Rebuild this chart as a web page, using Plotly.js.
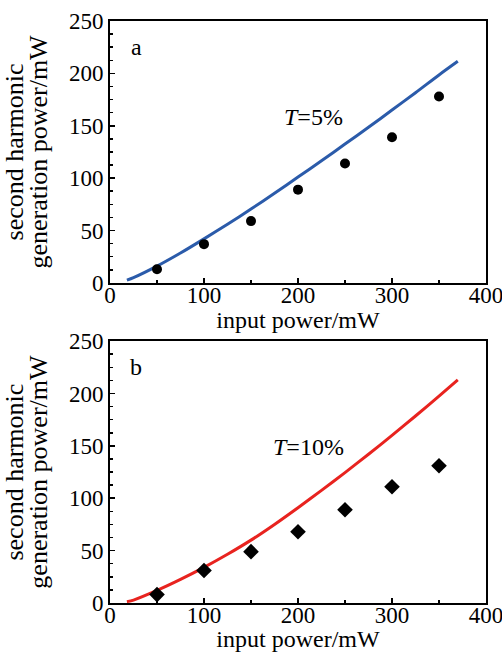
<!DOCTYPE html>
<html>
<head>
<meta charset="utf-8">
<script src="https://cdn.plot.ly/plotly-3.0.1.min.js"></script>
<style>html,body{margin:0;padding:0;background:#fff;}#chart{width:502px;height:652px;}</style>
</head>
<body>
<div id="chart"></div>
<script>
// Measured points
var inputPower = [50, 100, 150, 200, 250, 300, 350];
var shgMeasuredA = [13, 37, 59, 89, 114, 139, 178];
var shgMeasuredB = [8, 31, 49, 68, 89, 111, 131];

// Theoretical curves
var curveX = [18, 25, 50, 75, 100, 125, 150, 175, 200, 225, 250, 275, 300, 325, 350, 370];
var curveA = [2.6, 5, 16, 28.5, 42, 56, 70.5, 85.5, 101, 116.5, 132.5, 148.5, 165, 181.5, 198.5, 211.5];
var curveB = [1.3, 2.8, 12, 22.5, 34, 46.5, 60, 75, 91, 107.5, 124.5, 142, 160, 178.5, 197.5, 213];

var xTicks = [0, 100, 200, 300, 400];
var yTicks = [0, 50, 100, 150, 200, 250];

var FONT = 'Liberation Serif, Times New Roman, serif';
var TICKSIZE = 23;
var TITLESIZE = 24;
var YTITLESIZE = 26;

var traces = [
  {x: curveX, y: curveA, mode: 'lines', line: {color: '#2b5baa', width: 3, shape: 'spline', smoothing: 0.8}, xaxis: 'x', yaxis: 'y', hoverinfo: 'skip'},
  {x: inputPower, y: shgMeasuredA, mode: 'markers', marker: {color: '#000', size: 10, symbol: 'circle'}, xaxis: 'x', yaxis: 'y'},
  {x: curveX, y: curveB, mode: 'lines', line: {color: '#e8231f', width: 3, shape: 'spline', smoothing: 0.8}, xaxis: 'x2', yaxis: 'y2', hoverinfo: 'skip'},
  {x: inputPower, y: shgMeasuredB, mode: 'markers', marker: {color: '#000', size: 12, symbol: 'diamond'}, xaxis: 'x2', yaxis: 'y2'}
];

function xAxis(anchor) {
  return {
    anchor: anchor, domain: [0, 1], range: [0, 400], tickvals: xTicks, ticktext: xTicks.map(String),
    ticks: 'inside', ticklen: 5, tickwidth: 1.5, tickcolor: '#000',
    minor: {dtick: 50, tick0: 0, ticks: 'inside', ticklen: 3, tickwidth: 1.5, tickcolor: '#000'},
    showline: true, linecolor: '#000', linewidth: 2, mirror: true,
    showgrid: false, zeroline: false,
    ticklabeloverflow: 'allow', ticklabelstandoff: -10,
    tickfont: {family: FONT, size: TICKSIZE, color: '#000'},
    title: {text: 'input power/mW', font: {family: FONT, size: TITLESIZE, color: '#000'}, standoff: 3}
  };
}
function yAxis(anchor, domain) {
  return {
    anchor: anchor, domain: domain, range: [0, 250], tickvals: yTicks, ticktext: yTicks.map(String),
    ticks: 'inside', ticklen: 5, tickwidth: 1.5, tickcolor: '#000',
    minor: {dtick: 12.5, tick0: 0, ticks: 'inside', ticklen: 3, tickwidth: 1.5, tickcolor: '#000'},
    showline: true, linecolor: '#000', linewidth: 2, mirror: true,
    showgrid: false, zeroline: false,
    tickfont: {family: FONT, size: TICKSIZE, color: '#000'},
    title: {text: 'generation power/mW', font: {family: FONT, size: YTITLESIZE, color: '#000'}, standoff: 14}
  };
}

function ann(xref, yref, x, y, text) {
  return {xref: xref, yref: yref, x: x, y: y, text: text, showarrow: false,
          font: {family: FONT, size: TITLESIZE, color: '#000'}};
}
function yTitleLine(yref, text) {
  return {xref: 'paper', yref: yref, x: -0.254, y: 0.5, text: text, showarrow: false,
          textangle: -90, xanchor: 'center', yanchor: 'middle',
          font: {family: FONT, size: YTITLESIZE, color: '#000'}};
}

var layout = {
  width: 502, height: 652,
  margin: {l: 110, r: 16, t: 21, b: 49},
  paper_bgcolor: '#fff', plot_bgcolor: '#fff',
  showlegend: false,
  font: {family: FONT, color: '#000'},
  xaxis: xAxis('y'),
  yaxis: yAxis('x', [0.55, 1]),
  xaxis2: xAxis('y2'),
  yaxis2: yAxis('x2', [0, 0.45]),
  annotations: [
    ann('x', 'y', 28, 225, 'a'),
    ann('x', 'y', 216, 158, '<i>T</i>=5%'),
    ann('x2', 'y2', 28, 225, 'b'),
    ann('x2', 'y2', 211, 149, '<i>T</i>=10%'),
    yTitleLine('y domain', 'second harmonic'),
    yTitleLine('y2 domain', 'second harmonic')
  ]
};

Plotly.newPlot('chart', traces, layout, {staticPlot: true, displayModeBar: false});
</script>
</body>
</html>
